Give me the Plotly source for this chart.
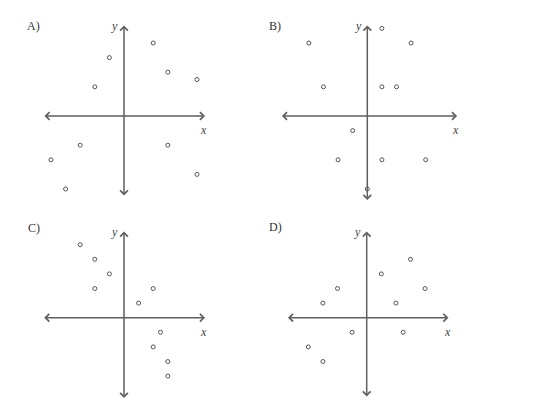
import plotly.graph_objects as go

a_x = [2, -1, 3, 5, -2, -3, 3, -5, 5, -4]
a_y = [5, 4, 3, 2.5, 2, -2, -2, -3, -4, -5]
b_x = [1, -4, 3, -3, 1, 2, -1, -2, 1, 4, 0]
b_y = [6, 5, 5, 2, 2, 2, -1, -3, -3, -3, -5]
c_x = [-3, -2, -1, -2, 2, 1, 2.5, 2, 3, 3]
c_y = [5, 4, 3, 2, 2, 1, -1, -2, -3, -4]
d_x = [3, 1, -2, 4, -3, 2, -1, 2.5, -4, -3]
d_y = [4, 3, 2, 2, 1, 1, -1, -1, -2, -3]
labels = ['A)', 'B)', 'C)', 'D)']

PAGE_MARGIN = 8  # the page body has an 8px margin round the plot
W, H = 541 - 2 * PAGE_MARGIN, 408 - 2 * PAGE_MARGIN
U = 14.6  # pixels per unit
LINE = '#5f5f5f'
FONT = 'Liberation Serif'

# origin pixel, axis extents (xmin, xmax, ymin, ymax), label pixel (page coords)
panels = [
    (a_x, a_y, (124, 116), (-5.55, 5.55, -5.55, 6.2), (25, 26)),
    (b_x, b_y, (367.3, 116), (-5.95, 6.15, -5.85, 6.2), (267, 26)),
    (c_x, c_y, (124, 317.7), (-5.57, 5.55, -5.6, 5.9), (26, 228)),
    (d_x, d_y, (366.7, 317.7), (-5.5, 5.6, -5.5, 5.9), (267, 227)),
]

fig = go.Figure()
annotations = []
for i, (xs, ys, (ox, oy), (x0, x1, y0, y1), (lx, ly)) in enumerate(panels):
    n = '' if i == 0 else str(i + 1)
    ox, oy = ox - PAGE_MARGIN, oy - PAGE_MARGIN
    lx, ly = lx - PAGE_MARGIN, ly - PAGE_MARGIN
    # each panel box in pixels, kept inside the figure
    left, right = max(ox - 100, 0), min(ox + 100, W)
    top, bottom = max(oy - 100, 0), min(oy + 90, H)
    fig.update_layout(**{
        'xaxis' + n: dict(domain=[left / W, right / W],
                          range=[(left - ox) / U, (right - ox) / U],
                          visible=False, anchor='y' + n),
        'yaxis' + n: dict(domain=[1 - bottom / H, 1 - top / H],
                          range=[(oy - bottom) / U, (oy - top) / U],
                          visible=False, anchor='x' + n),
    })
    xr, yr = 'x' + n, 'y' + n
    fig.add_trace(go.Scatter(
        x=xs, y=ys, mode='markers', xaxis=xr, yaxis=yr,
        marker=dict(symbol='circle-open', size=4, color='#555555',
                    line=dict(width=1)),
        showlegend=False, hoverinfo='skip'))
    # axes with arrows at both ends
    for (hx, hy, tx, ty) in [(x1, 0, x0, 0), (0, y1, 0, y0)]:
        annotations.append(dict(
            x=hx, y=hy, ax=tx, ay=ty, xref=xr, yref=yr, axref=xr, ayref=yr,
            text='', showarrow=True, arrowhead=4, startarrowhead=4,
            arrowside='end+start', arrowwidth=1.5, arrowsize=1,
            startarrowsize=1, arrowcolor=LINE, standoff=0, startstandoff=0))
    annotations.append(dict(x=x1 - 0.1, y=-0.35, xref=xr, yref=yr, text='<i>x</i>',
                            showarrow=False, xanchor='center', yanchor='top',
                            font=dict(family=FONT, size=12, color='#444')))
    annotations.append(dict(x=-0.25, y=y1 - 0.05, xref=xr, yref=yr, text='<i>y</i>',
                            showarrow=False, xanchor='right', yanchor='middle',
                            font=dict(family=FONT, size=12, color='#444')))
    annotations.append(dict(x=lx / W, y=1 - ly / H, xref='paper', yref='paper',
                            text=labels[i], showarrow=False,
                            xanchor='left', yanchor='middle',
                            font=dict(family=FONT, size=12, color='#333')))

fig.update_layout(
    width=W, height=H,
    margin=dict(l=0, r=0, t=0, b=0),
    paper_bgcolor='white', plot_bgcolor='white',
    annotations=annotations,
)

fig.write_html('out.html')
